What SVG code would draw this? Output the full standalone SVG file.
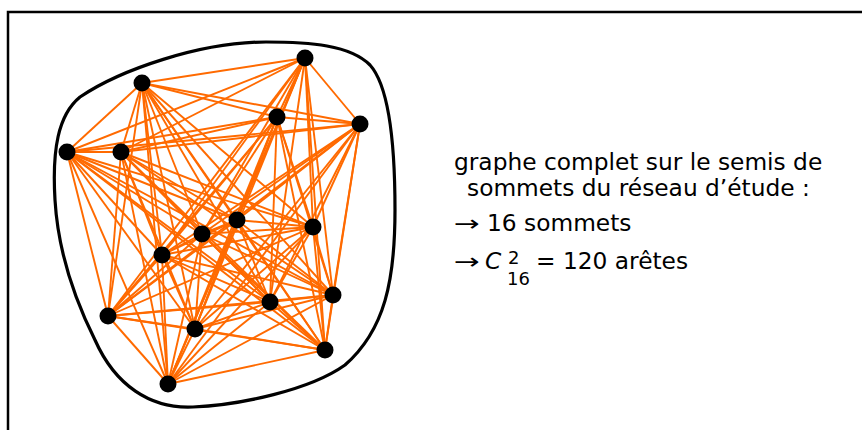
<svg xmlns="http://www.w3.org/2000/svg" width="862" height="430" viewBox="0 0 862 430">
<style>
.frame{fill:none;stroke:#000;stroke-width:2.5}
.blob{fill:none;stroke:#000;stroke-width:3.2}
.edges line{stroke:#ff6a00;stroke-width:1.9}
.node circle{fill:#000}
.t{font-family:"DejaVu Sans","Verdana",sans-serif;font-size:23.3px;fill:#000}
.sm{font-size:18px}
.arr{font-family:"DejaVu Sans",sans-serif;font-size:22px}
</style>
<rect class="frame" x="8" y="12" width="900" height="500"/>
<path class="blob" d="M266,42 C310,42 350,45 370,65 C388,85 395,140 395,210 C395,280 385,330 345,365 C310,390 240,405 193,407 C150,409 115,385 95,340 C75,300 58,250 55,200 C52,150 58,115 80,97 C120,70 200,42 266,42 Z"/>
<g id="edges" class="edges">
<line x1="305" y1="58" x2="142" y2="83"/><line x1="305" y1="58" x2="277" y2="117"/><line x1="305" y1="58" x2="360" y2="124"/><line x1="305" y1="58" x2="67" y2="152"/><line x1="305" y1="58" x2="121" y2="152"/><line x1="305" y1="58" x2="237" y2="220"/><line x1="305" y1="58" x2="202" y2="234"/><line x1="305" y1="58" x2="313" y2="227"/><line x1="305" y1="58" x2="162" y2="255"/><line x1="305" y1="58" x2="108" y2="316"/><line x1="305" y1="58" x2="195" y2="329"/><line x1="305" y1="58" x2="270" y2="302"/><line x1="305" y1="58" x2="333" y2="295"/><line x1="305" y1="58" x2="325" y2="350"/><line x1="305" y1="58" x2="168" y2="384"/>
<line x1="142" y1="83" x2="277" y2="117"/><line x1="142" y1="83" x2="360" y2="124"/><line x1="142" y1="83" x2="67" y2="152"/><line x1="142" y1="83" x2="121" y2="152"/><line x1="142" y1="83" x2="237" y2="220"/><line x1="142" y1="83" x2="202" y2="234"/><line x1="142" y1="83" x2="313" y2="227"/><line x1="142" y1="83" x2="162" y2="255"/><line x1="142" y1="83" x2="108" y2="316"/><line x1="142" y1="83" x2="195" y2="329"/><line x1="142" y1="83" x2="270" y2="302"/><line x1="142" y1="83" x2="333" y2="295"/><line x1="142" y1="83" x2="325" y2="350"/><line x1="142" y1="83" x2="168" y2="384"/>
<line x1="277" y1="117" x2="360" y2="124"/><line x1="277" y1="117" x2="67" y2="152"/><line x1="277" y1="117" x2="121" y2="152"/><line x1="277" y1="117" x2="237" y2="220"/><line x1="277" y1="117" x2="202" y2="234"/><line x1="277" y1="117" x2="313" y2="227"/><line x1="277" y1="117" x2="162" y2="255"/><line x1="277" y1="117" x2="108" y2="316"/><line x1="277" y1="117" x2="195" y2="329"/><line x1="277" y1="117" x2="270" y2="302"/><line x1="277" y1="117" x2="333" y2="295"/><line x1="277" y1="117" x2="325" y2="350"/><line x1="277" y1="117" x2="168" y2="384"/>
<line x1="360" y1="124" x2="67" y2="152"/><line x1="360" y1="124" x2="121" y2="152"/><line x1="360" y1="124" x2="237" y2="220"/><line x1="360" y1="124" x2="202" y2="234"/><line x1="360" y1="124" x2="313" y2="227"/><line x1="360" y1="124" x2="162" y2="255"/><line x1="360" y1="124" x2="108" y2="316"/><line x1="360" y1="124" x2="195" y2="329"/><line x1="360" y1="124" x2="270" y2="302"/><line x1="360" y1="124" x2="333" y2="295"/><line x1="360" y1="124" x2="325" y2="350"/><line x1="360" y1="124" x2="168" y2="384"/>
<line x1="67" y1="152" x2="121" y2="152"/><line x1="67" y1="152" x2="237" y2="220"/><line x1="67" y1="152" x2="202" y2="234"/><line x1="67" y1="152" x2="313" y2="227"/><line x1="67" y1="152" x2="162" y2="255"/><line x1="67" y1="152" x2="108" y2="316"/><line x1="67" y1="152" x2="195" y2="329"/><line x1="67" y1="152" x2="270" y2="302"/><line x1="67" y1="152" x2="333" y2="295"/><line x1="67" y1="152" x2="325" y2="350"/><line x1="67" y1="152" x2="168" y2="384"/>
<line x1="121" y1="152" x2="237" y2="220"/><line x1="121" y1="152" x2="202" y2="234"/><line x1="121" y1="152" x2="313" y2="227"/><line x1="121" y1="152" x2="162" y2="255"/><line x1="121" y1="152" x2="108" y2="316"/><line x1="121" y1="152" x2="195" y2="329"/><line x1="121" y1="152" x2="270" y2="302"/><line x1="121" y1="152" x2="333" y2="295"/><line x1="121" y1="152" x2="325" y2="350"/><line x1="121" y1="152" x2="168" y2="384"/>
<line x1="237" y1="220" x2="202" y2="234"/><line x1="237" y1="220" x2="313" y2="227"/><line x1="237" y1="220" x2="162" y2="255"/><line x1="237" y1="220" x2="108" y2="316"/><line x1="237" y1="220" x2="195" y2="329"/><line x1="237" y1="220" x2="270" y2="302"/><line x1="237" y1="220" x2="333" y2="295"/><line x1="237" y1="220" x2="325" y2="350"/><line x1="237" y1="220" x2="168" y2="384"/>
<line x1="202" y1="234" x2="313" y2="227"/><line x1="202" y1="234" x2="162" y2="255"/><line x1="202" y1="234" x2="108" y2="316"/><line x1="202" y1="234" x2="195" y2="329"/><line x1="202" y1="234" x2="270" y2="302"/><line x1="202" y1="234" x2="333" y2="295"/><line x1="202" y1="234" x2="325" y2="350"/><line x1="202" y1="234" x2="168" y2="384"/>
<line x1="313" y1="227" x2="162" y2="255"/><line x1="313" y1="227" x2="108" y2="316"/><line x1="313" y1="227" x2="195" y2="329"/><line x1="313" y1="227" x2="270" y2="302"/><line x1="313" y1="227" x2="333" y2="295"/><line x1="313" y1="227" x2="325" y2="350"/><line x1="313" y1="227" x2="168" y2="384"/>
<line x1="162" y1="255" x2="108" y2="316"/><line x1="162" y1="255" x2="195" y2="329"/><line x1="162" y1="255" x2="270" y2="302"/><line x1="162" y1="255" x2="333" y2="295"/><line x1="162" y1="255" x2="325" y2="350"/><line x1="162" y1="255" x2="168" y2="384"/>
<line x1="108" y1="316" x2="195" y2="329"/><line x1="108" y1="316" x2="270" y2="302"/><line x1="108" y1="316" x2="333" y2="295"/><line x1="108" y1="316" x2="325" y2="350"/><line x1="108" y1="316" x2="168" y2="384"/>
<line x1="195" y1="329" x2="270" y2="302"/><line x1="195" y1="329" x2="333" y2="295"/><line x1="195" y1="329" x2="325" y2="350"/><line x1="195" y1="329" x2="168" y2="384"/>
<line x1="270" y1="302" x2="333" y2="295"/><line x1="270" y1="302" x2="325" y2="350"/><line x1="270" y1="302" x2="168" y2="384"/>
<line x1="333" y1="295" x2="325" y2="350"/><line x1="333" y1="295" x2="168" y2="384"/>
<line x1="325" y1="350" x2="168" y2="384"/>
</g>
<g id="n1" class="node"><circle cx="305" cy="58" r="8.5"/></g>
<g id="n2" class="node"><circle cx="142" cy="83" r="8.5"/></g>
<g id="n3" class="node"><circle cx="277" cy="117" r="8.5"/></g>
<g id="n4" class="node"><circle cx="360" cy="124" r="8.5"/></g>
<g id="n5" class="node"><circle cx="67" cy="152" r="8.5"/></g>
<g id="n6" class="node"><circle cx="121" cy="152" r="8.5"/></g>
<g id="n7" class="node"><circle cx="237" cy="220" r="8.5"/></g>
<g id="n8" class="node"><circle cx="202" cy="234" r="8.5"/></g>
<g id="n9" class="node"><circle cx="313" cy="227" r="8.5"/></g>
<g id="n10" class="node"><circle cx="162" cy="255" r="8.5"/></g>
<g id="n11" class="node"><circle cx="108" cy="316" r="8.5"/></g>
<g id="n12" class="node"><circle cx="195" cy="329" r="8.5"/></g>
<g id="n13" class="node"><circle cx="270" cy="302" r="8.5"/></g>
<g id="n14" class="node"><circle cx="333" cy="295" r="8.5"/></g>
<g id="n15" class="node"><circle cx="325" cy="350" r="8.5"/></g>
<g id="n16" class="node"><circle cx="168" cy="384" r="8.5"/></g>
<g id="caption" class="t">
<text x="454" y="170">graphe complet sur le semis de</text>
<text x="467" y="196">sommets du réseau d’étude :</text>
<text x="454" y="231" class="arr" textLength="26" lengthAdjust="spacingAndGlyphs">→</text>
<text x="487" y="231">16 sommets</text>
<text x="454" y="269" class="arr" textLength="26" lengthAdjust="spacingAndGlyphs">→</text>
<text x="485" y="269" font-style="italic">C</text>
<text x="508" y="264" class="sm">2</text>
<text x="507" y="285" class="sm">16</text>
<text x="536" y="269">= 120 arêtes</text>
</g>
</svg>
